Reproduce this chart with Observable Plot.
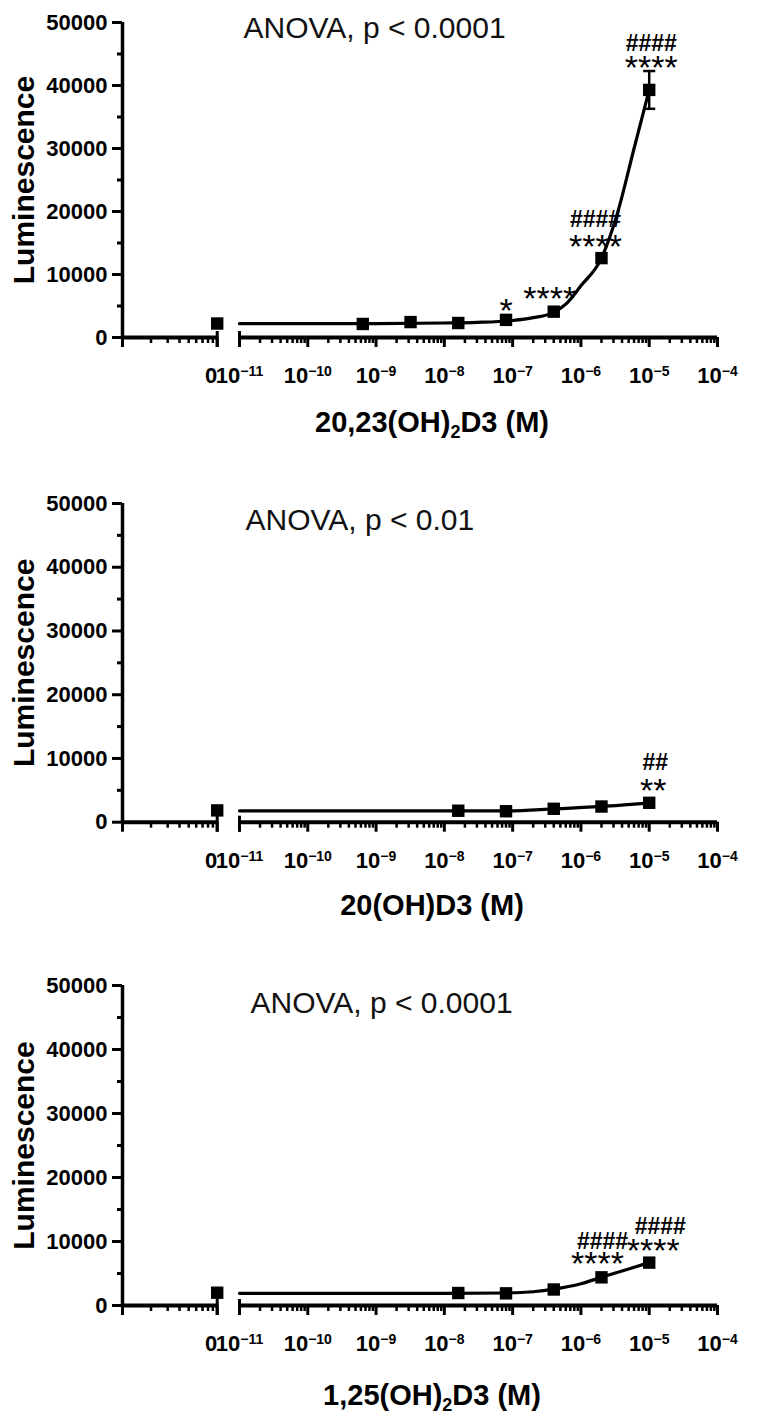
<!DOCTYPE html>
<html><head><meta charset="utf-8">
<script src="https://cdn.jsdelivr.net/npm/d3@7"></script>
<script src="https://cdn.jsdelivr.net/npm/@observablehq/plot@0.6"></script>
<style>
body{margin:0;background:#fff;}
#root{position:relative;width:765px;height:1425px;overflow:hidden;}
#root svg{position:absolute;left:0;}
</style></head><body><div id="root"></div>
<script>
// ---------- data ----------
// Panel 1: 20,23(OH)2D3
const conc20_23 = [6.4e-10, 3.2e-9, 1.6e-8, 8e-8, 4e-7, 2e-6, 1e-5];
const lum20_23  = [2150, 2450, 2300, 2800, 4100, 12600, 39300];
const sem20_23  = [0, 0, 0, 0, 0, 0, 3000];
const zero20_23 = 2220;
const fitConc20_23 = [1e-11, 1e-9, 1e-8, 3e-8, 1e-7, 2e-7, 4e-7, 6e-7, 1e-6, 2e-6, 3.4e-6, 6e-6, 1e-5];
const fitLum20_23  = [2200, 2200, 2300, 2400, 2700, 3150, 4000, 5300, 8200, 12600, 19600, 30000, 39300];
const annotConc20_23 = [8e-8, 4e-7, 2e-6, 2e-6, 1e-5, 1e-5];
const annotText20_23 = ["*", "****", "****", "####", "****", "####"];
const anova20_23 = "ANOVA, p < 0.0001";
const xTitle20_23 = "20,23(OH)_2D3 (M)";

// Panel 2: 20(OH)D3
const conc20 = [1.6e-8, 8e-8, 4e-7, 2e-6, 1e-5];
const lum20  = [1800, 1720, 2100, 2460, 3040];
const sem20  = [0, 0, 0, 0, 0];
const zero20 = 1850;
const fitConc20 = [1e-11, 1e-8, 8e-8, 4e-7, 2e-6, 1e-5];
const fitLum20  = [1780, 1770, 1770, 2080, 2470, 3040];
const annotConc20 = [1e-5, 1e-5];
const annotText20 = ["**", "##"];
const anova20 = "ANOVA, p < 0.01";
const xTitle20 = "20(OH)D3 (M)";

// Panel 3: 1,25(OH)2D3
const conc1_25 = [1.6e-8, 8e-8, 4e-7, 2e-6, 1e-5];
const lum1_25  = [1950, 1900, 2500, 4400, 6700];
const sem1_25  = [0, 0, 0, 0, 0];
const zero1_25 = 2000;
const fitConc1_25 = [1e-11, 1e-8, 8e-8, 2e-7, 4e-7, 1e-6, 2e-6, 5e-6, 1e-5];
const fitLum1_25  = [1900, 1900, 1950, 2150, 2550, 3400, 4400, 5700, 6700];
const annotConc1_25 = [2e-6, 2e-6, 1e-5, 1e-5];
const annotText1_25 = ["****", "####", "****", "####"];
const anova1_25 = "ANOVA, p < 0.0001";
const xTitle1_25 = "1,25(OH)_2D3 (M)";

// Axis ticks and labels
const yTitle = "Luminescence";
const yMajorTicks = [0, 10000, 20000, 30000, 40000, 50000];
const yMinorTicks = [5000, 15000, 25000, 35000, 45000];
const xTickValues = [1e-11, 1e-10, 1e-9, 1e-8, 1e-7, 1e-6, 1e-5, 1e-4];
const xTickLabels = ["10^-11", "10^-10", "10^-9", "10^-8", "10^-7", "10^-6", "10^-5", "10^-4"];
const zeroLabel = "0";

// ---------- broken log axis geometry ----------
const X_AXIS_MIN = 10 ** -12.713;   // left end of axis (y-axis position)
const ZERO_AT = 10 ** -11.326;      // placement of the "0" (vehicle) column
const segSpan = Math.log10(ZERO_AT / X_AXIS_MIN);
const xMinorA = d3.range(2, 10).map(k => X_AXIS_MIN * 10 ** (Math.log10(k) * segSpan));
const xMinorB = d3.range(-11, -4).flatMap(e => d3.range(2, 10).map(k => k * 10 ** e));
const labelMap = new Map(xTickValues.map((v, i) => [v, xTickLabels[i]]));

const FONT = "'Liberation Sans', Arial, Helvetica, sans-serif";
const capSymbol = {draw(ctx, size) { const w = Math.sqrt(size); ctx.moveTo(-w / 2, 0); ctx.lineTo(w / 2, 0); }};

const panels = [
  {top: 0, height: 481, frameH: 315, conc: conc20_23, lum: lum20_23, sem: sem20_23, zero: zero20_23,
   fitConc: fitConc20_23, fitLum: fitLum20_23, annotConc: annotConc20_23, annotText: annotText20_23,
   annotDx: [0, -4, -6, -6, 2, 2], annotDy: [-9, -13, -11.5, -38, -21.5, -46.7],
   anova: anova20_23, xTitle: xTitle20_23, anovaDx: 121, anovaDy: 6, xTitleDy: 85},
  {top: 481, height: 482, frameH: 318.7, conc: conc20, lum: lum20, sem: sem20, zero: zero20,
   fitConc: fitConc20, fitLum: fitLum20, annotConc: annotConc20, annotText: annotText20,
   annotDx: [4, 6], annotDy: [-12, -39.7],
   anova: anova20, xTitle: xTitle20, anovaDx: 123, anovaDy: 17, xTitleDy: 84},
  {top: 963, height: 462, frameH: 320, conc: conc1_25, lum: lum1_25, sem: sem1_25, zero: zero1_25,
   fitConc: fitConc1_25, fitLum: fitLum1_25, annotConc: annotConc1_25, annotText: annotText1_25,
   annotDx: [-4, 1, 4, 11], annotDy: [-13, -35.6, -12, -36],
   anova: anova1_25, xTitle: xTitle1_25, anovaDx: 128, anovaDy: 17.5, xTitleDy: 90}
];

const NS = "http://www.w3.org/2000/svg";
function scripts(svg) {
  svg.querySelectorAll("text").forEach(t => {
    const s = t.textContent;
    if (s.includes("^")) {
      const [b, e] = s.split("^");
      t.textContent = b;
      const ts = document.createElementNS(NS, "tspan");
      ts.setAttribute("dy", "-7");
      ts.setAttribute("font-size", "14");
      ts.textContent = e.replace("-", "\u2212");
      t.appendChild(ts);
    } else if (s.includes("_")) {
      const [b, rest] = s.split("_");
      t.textContent = b;
      const sub = document.createElementNS(NS, "tspan");
      sub.setAttribute("dy", "6");
      sub.setAttribute("font-size", "18");
      sub.textContent = rest[0];
      const after = document.createElementNS(NS, "tspan");
      after.setAttribute("dy", "-6");
      after.textContent = rest.slice(1);
      t.appendChild(sub); t.appendChild(after);
    }
  });
}

const root = document.getElementById("root");
for (const p of panels) {
  const pts = [{c: ZERO_AT, v: p.zero, s: 0}, ...p.conc.map((c, i) => ({c, v: p.lum[i], s: p.sem[i]}))];
  const fit = p.fitConc.map((c, i) => ({c, v: p.fitLum[i]}));
  const errs = pts.filter(d => d.s > 0);
  const valueAt = c => p.lum[p.conc.indexOf(c)];
  const annMarks = p.annotConc.map((c, i) => {
    const star = p.annotText[i].includes("*");
    return Plot.text([{c, v: valueAt(c), t: p.annotText[i]}], {
      x: "c", y: "v", text: "t", dx: p.annotDx[i], dy: p.annotDy[i],
      textAnchor: "middle", lineAnchor: "middle",
      fontSize: star ? 34 : 23, fontWeight: star ? "normal" : "bold", fill: "#000"
    });
  });
  const svg = Plot.plot({
    width: 765, height: p.height,
    marginLeft: 122, marginRight: 48, marginTop: 22,
    marginBottom: p.height - 22 - p.frameH,
    x: {type: "log", domain: [X_AXIS_MIN, 1e-4], label: null},
    y: {domain: [0, 50000], label: null},
    style: {fontFamily: FONT, color: "#000", background: "transparent", overflow: "visible"},
    marks: [
      // axes lines
      Plot.ruleX([X_AXIS_MIN], {x: d => d, y1: 0, y2: 50000, strokeWidth: 3.5}),
      Plot.ruleY([0], {x1: X_AXIS_MIN, x2: ZERO_AT, y: d => d, strokeWidth: 4}),
      Plot.ruleY([0], {x1: 1e-11, x2: 1e-4, y: d => d, strokeWidth: 4}),
      Plot.tickX([ZERO_AT, 1e-11], {x: d => d, insetTop: p.frameH - 6, insetBottom: -10, strokeWidth: 3}),
      // y ticks
      Plot.axisY(yMajorTicks, {tickSize: 10, tickPadding: 5, fontSize: 22, fontWeight: "bold",
        strokeWidth: 3, tickFormat: d => String(d), label: null}),
      Plot.axisY(yMinorTicks, {tickSize: 5, strokeWidth: 3, tickFormat: () => "", label: null}),
      // x ticks
      Plot.axisX([X_AXIS_MIN, ZERO_AT, ...xTickValues], {tickSize: 10, tickPadding: 20, fontSize: 22,
        fontWeight: "bold", strokeWidth: 3, tickFormat: d => labelMap.get(d) ?? "", label: null}),
      Plot.axisX([...xMinorA, ...xMinorB], {tickSize: 6, strokeWidth: 2.5, tickFormat: () => "", label: null}),
      Plot.text([zeroLabel], {x: () => ZERO_AT, frameAnchor: "bottom", dy: 30, dx: -6, lineAnchor: "top",
        textAnchor: "middle", text: d => d, fontSize: 22, fontWeight: "bold"}),
      // titles
      Plot.text([yTitle], {frameAnchor: "left", rotate: -90, dx: -98, textAnchor: "middle", lineAnchor: "middle",
        text: d => d, fontSize: 30, fontWeight: "bold"}),
      Plot.text([p.xTitle], {frameAnchor: "bottom", dy: p.xTitleDy, dx: 12, textAnchor: "middle", lineAnchor: "middle",
        text: d => d, fontSize: 29, fontWeight: "bold"}),
      Plot.text([p.anova], {frameAnchor: "top-left", dx: p.anovaDx, dy: p.anovaDy, textAnchor: "start", lineAnchor: "middle",
        text: d => d, fontSize: 30, fill: "#111"}),
      // data
      Plot.ruleX(errs, {x: "c", y1: d => d.v - d.s, y2: d => d.v + d.s, strokeWidth: 2.5}),
      Plot.dot(errs.flatMap(d => [{c: d.c, v: d.v - d.s}, {c: d.c, v: d.v + d.s}]),
        {x: "c", y: "v", symbol: capSymbol, r: 6.8, stroke: "#000", strokeWidth: 2.5, fill: "none"}),
      Plot.line(fit, {x: "c", y: "v", curve: "monotone-x", strokeWidth: 3.2, stroke: "#000"}),
      Plot.dot(pts, {x: "c", y: "v", symbol: "square", r: 7, fill: "#000"}),
      ...annMarks
    ]
  });
  svg.style.top = p.top + "px";
  scripts(svg);
  root.appendChild(svg);
}
</script>
</body></html>
